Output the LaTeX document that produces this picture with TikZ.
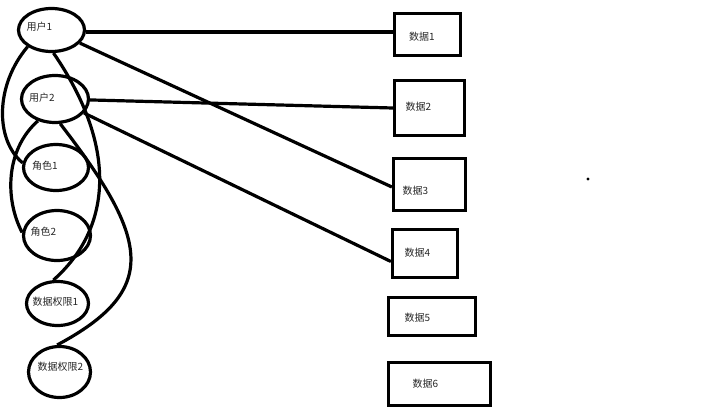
\documentclass[tikz,border=0pt]{standalone}
\usepackage{fontspec}
\newfontfamily\cjk{Noto Sans CJK SC}
\usetikzlibrary{shapes.geometric}
\tikzset{
  ell/.style={ellipse, draw, line width=3.2pt, inner sep=0pt},
  box/.style={rectangle, draw, line width=3.2pt, inner sep=0pt},
  txt/.style={inner sep=0pt, font=\cjk\fontsize{10}{12}\selectfont, text=black!85},
  link/.style={line width=3.2pt},
}
\begin{document}
\begin{tikzpicture}[x=1pt,y=-1pt]
\useasboundingbox (0,0) rectangle (720,410);
% ellipses
\node[ell, minimum width=66pt, minimum height=43pt] (u1) at (51.5,30) {};
\node[ell, minimum width=67pt, minimum height=47pt] (u2) at (55,99) {};
\node[ell, minimum width=65pt, minimum height=46pt] (r1) at (56,167.5) {};
\node[ell, minimum width=67pt, minimum height=50pt] (r2) at (57,235.5) {};
\node[ell, minimum width=62pt, minimum height=44pt] (p1) at (57.5,303.5) {};
\node[ell, minimum width=62pt, minimum height=51pt] (p2) at (59.5,372) {};
% boxes
\node[box, minimum width=66pt, minimum height=42pt] (d1) at (427.5,34.5) {};
\node[box, minimum width=70pt, minimum height=55pt] (d2) at (429.5,108) {};
\node[box, minimum width=72pt, minimum height=52pt] (d3) at (429.5,184.5) {};
\node[box, minimum width=65pt, minimum height=48pt] (d4) at (425,253.5) {};
\node[box, minimum width=87pt, minimum height=38pt] (d5) at (432,316.5) {};
\node[box, minimum width=102pt, minimum height=43pt] (d6) at (439.5,384) {};
% texts
\node[txt] (tu1) at (39.5,27) {用户1};
\node[txt] (tu2) at (42,98) {用户2};
\node[txt] (tr1) at (45,166) {角色1};
\node[txt] (tr2) at (43.5,232) {角色2};
\node[txt] (tp1) at (55.5,302) {数据权限1};
\node[txt] (tp2) at (60.5,367) {数据权限2};
\node[txt] (td1) at (422,37) {数据1};
\node[txt] (td2) at (418.5,107) {数据2};
\node[txt] (td3) at (415.5,191) {数据3};
\node[txt] (td4) at (417.5,253) {数据4};
\node[txt] (td5) at (417.5,318) {数据5};
\node[txt] (td6) at (425.5,384) {数据6};
% dot
\fill (588,179) circle (1.6pt);
% straight connectors
\draw[link] ([yshift=-2pt]u1.east) -- ([yshift=2.5pt]d1.west);
\draw[link] (u1) -- ([yshift=-2.5pt]d3.west);
\draw[link] (u2) -- (d2.west);
\draw[link] (u2) -- ([yshift=-8pt]d4.west);
% curved connectors
\draw[link] (u1.215) .. controls (-5,85) and (-5,140) .. (r1.172);
\draw[link] (u2.232) .. controls (5,150) and (5,200) .. (r2.175);
\draw[link] (u1.275) .. controls (120,150) and (110,230) .. (p1.100);
\draw[link] (u2.-78) .. controls (150,240) and (160,290) .. (p2.95);
\end{tikzpicture}
\end{document}
